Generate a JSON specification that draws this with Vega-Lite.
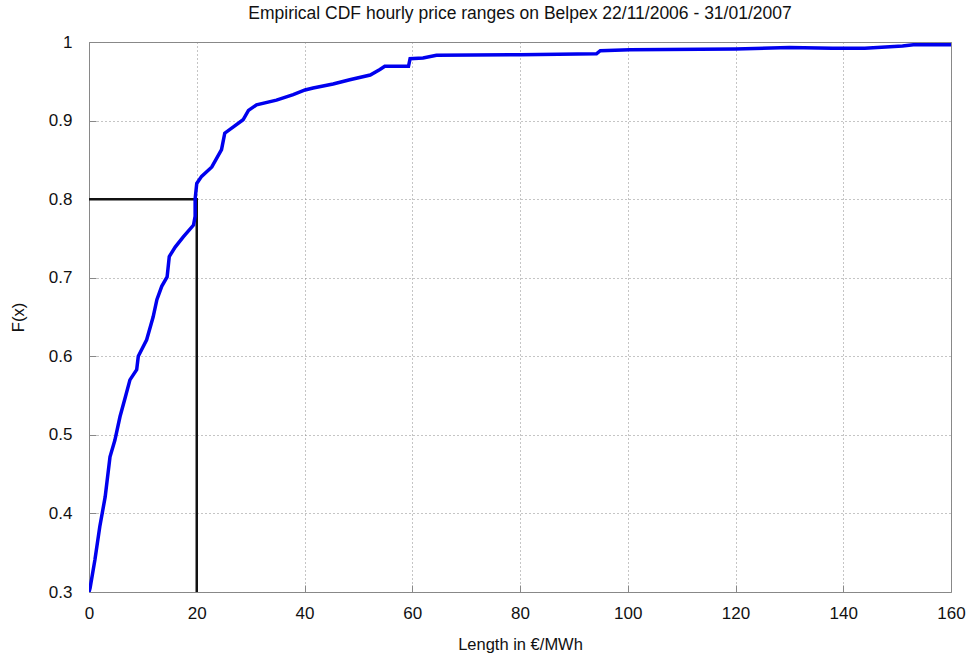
{
  "$schema": "https://vega.github.io/schema/vega-lite/v6.json",
  "width": 862,
  "height": 550,
  "autosize": "none",
  "padding": {"left": 89, "top": 42, "right": 17, "bottom": 65},
  "background": "white",
  "config": {
    "font": "Liberation Sans",
    "view": {"stroke": "#888888", "strokeWidth": 1},
    "axis": {
      "labelFont": "Liberation Sans",
      "titleFont": "Liberation Sans",
      "labelColor": "#111111",
      "titleColor": "#111111",
      "titleFontWeight": "normal",
      "labelFontSize": 17,
      "titleFontSize": 16.5,
      "domain": false,
      "gridColor": "#8a8a8a",
      "gridDash": [1, 3],
      "gridWidth": 1,
      "gridOpacity": 1,
      "tickColor": "#888888"
    }
  },
  "title": {
    "text": "Empirical CDF hourly price ranges on Belpex 22/11/2006 - 31/01/2007",
    "font": "Liberation Sans",
    "fontSize": 17.5,
    "fontWeight": "normal",
    "color": "#111111",
    "anchor": "middle",
    "offset": 10.5
  },
  "datasets": {
    "cdf": [
      {"i": 0, "x": 0.0, "F": 0.300},
      {"i": 1, "x": 0.2, "F": 0.305},
      {"i": 2, "x": 1.1, "F": 0.341},
      {"i": 3, "x": 2.0, "F": 0.383},
      {"i": 4, "x": 3.0, "F": 0.421},
      {"i": 5, "x": 3.9, "F": 0.472},
      {"i": 6, "x": 4.8, "F": 0.493},
      {"i": 7, "x": 5.75, "F": 0.523},
      {"i": 8, "x": 6.7, "F": 0.547},
      {"i": 9, "x": 7.6, "F": 0.570},
      {"i": 10, "x": 8.85, "F": 0.583},
      {"i": 11, "x": 9.15, "F": 0.600},
      {"i": 12, "x": 10.7, "F": 0.621},
      {"i": 13, "x": 11.9, "F": 0.650},
      {"i": 14, "x": 12.6, "F": 0.672},
      {"i": 15, "x": 13.5, "F": 0.689},
      {"i": 16, "x": 14.5, "F": 0.701},
      {"i": 17, "x": 14.9, "F": 0.727},
      {"i": 18, "x": 16.0, "F": 0.739},
      {"i": 19, "x": 17.5, "F": 0.752},
      {"i": 20, "x": 19.4, "F": 0.767},
      {"i": 21, "x": 19.7, "F": 0.778},
      {"i": 22, "x": 19.7, "F": 0.800},
      {"i": 23, "x": 20.0, "F": 0.820},
      {"i": 24, "x": 20.9, "F": 0.829},
      {"i": 25, "x": 22.8, "F": 0.841},
      {"i": 26, "x": 24.6, "F": 0.863},
      {"i": 27, "x": 25.2, "F": 0.884},
      {"i": 28, "x": 26.8, "F": 0.892},
      {"i": 29, "x": 28.6, "F": 0.901},
      {"i": 30, "x": 29.6, "F": 0.913},
      {"i": 31, "x": 31.1, "F": 0.920},
      {"i": 32, "x": 34.8, "F": 0.926},
      {"i": 33, "x": 37.9, "F": 0.933},
      {"i": 34, "x": 40.1, "F": 0.939},
      {"i": 35, "x": 41.6, "F": 0.9415},
      {"i": 36, "x": 45.3, "F": 0.9465},
      {"i": 37, "x": 48.4, "F": 0.952},
      {"i": 38, "x": 52.2, "F": 0.958},
      {"i": 39, "x": 54.0, "F": 0.965},
      {"i": 40, "x": 54.9, "F": 0.969},
      {"i": 41, "x": 59.3, "F": 0.969},
      {"i": 42, "x": 59.6, "F": 0.9788},
      {"i": 43, "x": 62.0, "F": 0.9796},
      {"i": 44, "x": 64.5, "F": 0.983},
      {"i": 45, "x": 80.0, "F": 0.9839},
      {"i": 46, "x": 94.2, "F": 0.985},
      {"i": 47, "x": 94.9, "F": 0.989},
      {"i": 48, "x": 100.4, "F": 0.990},
      {"i": 49, "x": 120.0, "F": 0.991},
      {"i": 50, "x": 130.0, "F": 0.993},
      {"i": 51, "x": 138.0, "F": 0.992},
      {"i": 52, "x": 144.0, "F": 0.992},
      {"i": 53, "x": 151.0, "F": 0.995},
      {"i": 54, "x": 153.0, "F": 0.9966},
      {"i": 55, "x": 160.0, "F": 0.9966}
    ],
    "ref": [
      {"i": 0, "x": 0, "F": 0.8},
      {"i": 1, "x": 20, "F": 0.8},
      {"i": 2, "x": 20, "F": 0.3}
    ]
  },
  "layer": [
    {
      "data": {"name": "ref"},
      "mark": {"type": "line", "color": "#111111", "strokeWidth": 2.5, "clip": true},
      "encoding": {
        "x": {
          "field": "x", "type": "quantitative",
          "scale": {"domain": [0, 160], "nice": false, "zero": false},
          "axis": {
            "values": [0, 20, 40, 60, 80, 100, 120, 140, 160],
            "title": "Length in €/MWh",
            "titlePadding": 15,
            "labelPadding": 20.5,
            "tickSize": -7,
            "labelFlush": false,
            "grid": true
          }
        },
        "y": {
          "field": "F", "type": "quantitative",
          "scale": {"domain": [0.3, 1], "nice": false, "zero": false},
          "axis": {
            "values": [0.3, 0.4, 0.5, 0.6, 0.7, 0.8, 0.9, 1],
            "format": "~g",
            "title": "F(x)",
            "titlePadding": 22,
            "labelPadding": 24,
            "tickSize": -7,
            "labelFlush": false,
            "grid": true
          }
        },
        "order": {"field": "i", "type": "quantitative"}
      }
    },
    {
      "data": {"name": "cdf"},
      "mark": {"type": "line", "color": "#0000ee", "strokeWidth": 3.5, "clip": true},
      "encoding": {
        "x": {"field": "x", "type": "quantitative"},
        "y": {"field": "F", "type": "quantitative"},
        "order": {"field": "i", "type": "quantitative"}
      }
    }
  ]
}
